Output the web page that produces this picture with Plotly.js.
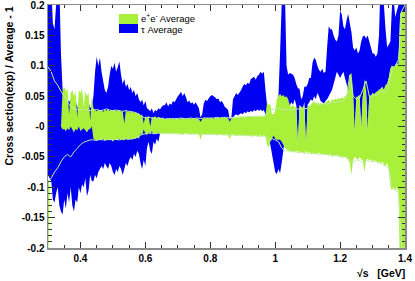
<!DOCTYPE html>
<html><head><meta charset="utf-8">
<script src="https://cdn.plot.ly/plotly-3.0.1.min.js"></script>
<style>html,body{margin:0;padding:0;background:#fff;}#chart{width:415px;height:281px;}</style>
</head><body><div id="chart"></div>
<script>
// ---- data ----
const seriesNames = ['e<sup>+</sup>e<sup>-</sup> Average', '\u03c4 Average'];
const xStart = 0.3;          // first sample (GeV)
const bandStep = 0.005;      // sampling of the bands (GeV)
const lineStep = 0.01;       // sampling of the reference lines (GeV)

// tau average band (upper / lower edge)
const tauHigh = [0.25,0.25,0.23,0.17,0.16,0.2,0.25,0.23,0.12,0.06,
 0.062,0.055,0.045,0.04,0.045,0.035,0.04,0.045,0.03,0.04,
 0.035,0.04,0.03,0.045,0.035,0.04,0.03,0.035,0.05,0.09,
 0.115,0.1,0.113,0.09,0.075,0.06,0.055,0.065,0.085,0.1,
 0.095,0.105,0.09,0.098,0.107,0.085,0.07,0.078,0.065,0.07,
 0.06,0.065,0.055,0.06,0.05,0.055,0.045,0.04,0.044,0.035,
 0.042,0.03,0.028,0.025,0.03,0.022,0.027,0.025,0.03,0.028,
 0.032,0.035,0.035,0.04,0.033,0.038,0.036,0.042,0.04,0.045,
 0.05,0.053,0.057,0.05,0.055,0.048,0.04,0.043,0.038,0.04,
 0.036,0.04,0.035,0.03,0.015,0.02,0.038,0.044,0.042,0.046,
 0.05,0.052,0.05,0.048,0.045,0.046,0.04,0.042,0.038,0.032,
 0.03,0.027,0.012,0.015,0.045,0.05,0.055,0.052,0.056,0.06,
 0.066,0.07,0.068,0.072,0.07,0.078,0.08,0.082,0.077,0.083,
 0.085,0.09,0.087,0.09,0.06,0.035,0.02,0.015,0.0,-0.01,
 -0.01,0.02,0.05,0.12,0.2,0.25,0.22,0.1,0.085,0.088,
 0.087,0.085,0.08,0.07,0.063,0.062,0.045,0.05,0.066,0.065,
 0.07,0.08,0.08,0.105,0.113,0.11,0.1,0.093,0.09,0.095,
 0.088,0.09,0.13,0.165,0.16,0.16,0.15,0.143,0.14,0.15,
 0.19,0.185,0.165,0.16,0.175,0.185,0.17,0.155,0.13,0.125,
 0.13,0.12,0.125,0.14,0.148,0.15,0.145,0.15,0.14,0.13,
 0.12,0.12,0.115,0.12,0.15,0.25,0.21,0.2,0.16,0.13,
 0.135,0.14,0.2,0.21,0.18,0.19,0.2,0.21,0.22,0.21,
 0.25];
const tauLow = [-0.08,-0.085,-0.09,-0.12,-0.125,-0.11,-0.1,-0.13,-0.14,-0.145,
 -0.12,-0.135,-0.11,-0.125,-0.1,-0.13,-0.14,-0.12,-0.125,-0.1,
 -0.11,-0.095,-0.1,-0.085,-0.115,-0.105,-0.08,-0.09,-0.09,-0.08,
 -0.085,-0.075,-0.07,-0.065,-0.07,-0.06,-0.065,-0.07,-0.06,-0.065,
 -0.075,-0.08,-0.07,-0.075,-0.065,-0.07,-0.08,-0.07,-0.06,-0.065,
 -0.055,-0.05,-0.055,-0.045,-0.05,-0.04,-0.045,-0.06,-0.07,-0.055,
 -0.065,-0.035,-0.025,-0.04,-0.045,-0.025,-0.03,-0.02,-0.025,-0.012,
 -0.005,0.0,0.01,0.006,0.012,0.008,0.01,0.007,0.011,0.009,
 0.01,0.008,0.012,0.01,0.009,0.011,0.008,0.01,0.012,0.009,
 0.01,0.008,0.011,0.005,-0.015,-0.005,0.01,0.012,0.01,0.013,
 0.011,0.012,0.01,0.013,0.011,0.012,0.01,0.013,0.012,0.011,
 0.012,0.01,-0.01,0.0,0.015,0.018,0.02,0.018,0.02,0.022,
 0.02,0.024,0.022,0.025,0.023,0.026,0.024,0.027,0.025,0.028,
 0.026,0.028,0.025,0.027,0.02,0.0,-0.02,-0.03,-0.045,-0.06,
 -0.075,-0.078,-0.07,-0.077,-0.06,-0.04,-0.02,0.0,0.02,0.035,
 0.04,0.036,0.045,0.035,-0.03,0.036,0.032,0.03,0.04,-0.035,
 0.036,0.04,0.045,0.042,0.05,0.045,0.055,0.05,0.042,0.04,
 0.038,0.042,0.045,0.05,0.055,0.06,0.07,0.08,0.09,0.085,
 0.08,0.085,0.09,0.08,0.07,0.06,0.055,0.05,0.05,-0.01,
 0.045,0.05,0.052,-0.005,0.05,0.06,0.058,-0.01,0.052,0.05,
 0.055,0.053,0.056,0.058,0.06,0.062,0.065,0.06,0.068,0.07,
 0.08,0.095,0.1,0.098,0.1,0.105,0.1,0.185,0.19,0.188,
 0.19];

// e+e- average band (upper / lower edge)
const eeHigh = [-0.085,-0.1,0.0,0.0,0.0,0.0,0.0,0.0,0.0,0.06,
 0.065,0.058,0.062,0.02,0.055,0.06,0.05,0.057,0.015,0.06,
 0.055,0.062,0.03,0.058,0.05,0.055,0.01,0.05,0.03,0.027,
 0.025,0.028,0.026,0.027,0.024,0.028,0.026,0.029,0.025,0.027,
 0.026,0.028,0.025,0.026,0.027,0.024,0.026,0.005,0.027,0.024,
 0.025,0.023,0.025,0.022,0.024,0.021,0.022,0.018,0.02,0.005,
 0.017,0.015,0.018,0.0,0.016,0.015,0.017,0.014,0.016,0.015,
 0.014,0.015,0.012,0.013,0.012,0.013,0.012,0.013,0.012,0.013,
 0.013,0.012,0.013,0.014,0.013,0.012,0.013,0.014,0.013,0.013,
 0.014,0.013,0.013,0.012,0.008,0.012,0.014,0.013,0.014,0.013,
 0.014,0.014,0.013,0.014,0.015,0.014,0.014,0.015,0.014,0.015,
 0.014,0.013,0.008,0.013,0.015,0.016,0.015,0.016,0.015,0.016,
 0.016,0.015,0.016,0.017,0.016,0.017,0.016,0.017,0.016,0.017,
 0.017,0.016,0.017,0.016,0.018,0.04,0.035,0.038,0.02,0.02,
 0.025,0.045,0.05,0.054,0.05,0.052,0.048,0.05,0.045,0.035,
 0.032,0.036,0.03,0.034,-0.03,0.033,0.03,0.032,0.034,-0.03,
 0.033,0.035,0.036,0.04,0.042,0.038,0.04,0.037,0.039,0.036,
 0.038,0.04,0.041,0.044,0.04,0.045,0.043,0.046,0.044,0.047,
 0.045,0.048,0.046,0.05,0.052,0.06,0.085,0.088,0.06,-0.01,
 0.05,0.048,0.052,-0.005,0.05,0.078,0.06,-0.01,0.052,0.05,
 0.055,0.053,0.056,0.058,0.06,0.062,0.065,0.06,0.068,0.07,
 0.08,0.095,0.1,0.098,0.1,0.105,0.1,0.185,0.19,0.188,
 0.19];
const eeLow = [-0.25,-0.1,0.0,0.0,0.0,0.0,0.0,0.0,0.0,-0.005,
 -0.004,-0.008,-0.003,-0.006,0.0,-0.005,-0.01,-0.004,-0.006,0.0,
 -0.008,-0.005,-0.003,-0.006,-0.01,-0.005,-0.004,0.0,-0.02,-0.022,
 -0.024,-0.021,-0.023,-0.022,-0.02,-0.024,-0.022,-0.021,-0.023,-0.022,
 -0.025,-0.021,-0.022,-0.023,-0.02,-0.022,-0.021,-0.023,-0.02,-0.022,
 -0.021,-0.02,-0.022,-0.019,-0.02,-0.018,-0.02,-0.012,-0.015,-0.005,
 -0.012,-0.014,-0.01,-0.012,-0.008,-0.013,-0.011,-0.012,-0.01,-0.012,
 -0.011,-0.012,-0.011,-0.012,-0.011,-0.012,-0.011,-0.012,-0.011,-0.012,
 -0.011,-0.012,-0.012,-0.013,-0.012,-0.011,-0.012,-0.013,-0.012,-0.012,
 -0.013,-0.012,-0.012,-0.013,-0.022,-0.013,-0.012,-0.013,-0.012,-0.013,
 -0.012,-0.013,-0.013,-0.012,-0.014,-0.013,-0.013,-0.014,-0.013,-0.014,
 -0.013,-0.014,-0.02,-0.014,-0.013,-0.014,-0.015,-0.014,-0.015,-0.014,
 -0.015,-0.014,-0.015,-0.016,-0.015,-0.016,-0.015,-0.016,-0.015,-0.016,
 -0.016,-0.015,-0.016,-0.015,-0.016,-0.03,-0.035,-0.025,-0.02,-0.015,
 -0.02,-0.022,-0.022,-0.022,-0.025,-0.03,-0.035,-0.038,-0.04,-0.04,
 -0.042,-0.04,-0.043,-0.041,-0.04,-0.044,-0.042,-0.043,-0.045,-0.04,
 -0.044,-0.042,-0.045,-0.043,-0.046,-0.044,-0.045,-0.043,-0.046,-0.045,
 -0.047,-0.045,-0.046,-0.048,-0.045,-0.05,-0.047,-0.049,-0.046,-0.05,
 -0.048,-0.052,-0.05,-0.05,-0.052,-0.055,-0.06,-0.08,-0.055,-0.05,
 -0.052,-0.055,-0.05,-0.053,-0.056,-0.075,-0.055,-0.053,-0.056,-0.054,
 -0.058,-0.055,-0.057,-0.06,-0.058,-0.06,-0.058,-0.062,-0.065,-0.06,
 -0.07,-0.1,-0.105,-0.1,-0.105,-0.1,-0.11,-0.25,-0.25,-0.25,
 -0.25];

// light reference lines
const refLineHigh = [0.098,0.09,0.075,0.068,0.058,0.05,0.04,0.033,0.03,0.028,
 0.027,0.028,0.027,0.026,0.027,0.028,0.026,0.027,0.029,0.027,
 0.026,0.027,0.026,0.025,0.026,0.025,0.024,0.023,0.02,0.016,
 0.014,0.015,0.014,0.013,0.013,0.013,0.012,0.013,0.013,0.013,
 0.013,0.014,0.013,0.013,0.014,0.013,0.014,0.013,0.014,0.014,
 0.014,0.014,0.015,0.014,0.015,0.015,0.014,0.015,0.015,0.016,
 0.016,0.016,0.017,0.016,0.017,0.017,0.017,0.018,0.025,0.028,
 0.028,0.03,0.028,0.027,0.028,0.027,0.028,0.029,0.028,0.029,
 0.03,0.035,0.04,0.037,0.036,0.038,0.037,0.039,0.04,0.04,
 0.041,0.042,0.05,0.085,0.05,0.045,0.047,0.06,0.075,0.05,
 0.05,0.052,0.055,0.058,0.057,0.065,0.095,0.1,0.11,0.19,
 0.2];
const refLineLow = [-0.09,-0.085,-0.075,-0.068,-0.058,-0.05,-0.046,-0.05,-0.042,-0.036,
 -0.03,-0.026,-0.024,-0.022,-0.022,-0.023,-0.021,-0.022,-0.022,-0.021,
 -0.022,-0.021,-0.022,-0.021,-0.02,-0.021,-0.02,-0.019,-0.016,-0.013,
 -0.012,-0.011,-0.011,-0.012,-0.011,-0.012,-0.011,-0.012,-0.012,-0.012,
 -0.012,-0.013,-0.012,-0.012,-0.013,-0.012,-0.013,-0.013,-0.013,-0.013,
 -0.013,-0.013,-0.014,-0.013,-0.014,-0.014,-0.014,-0.014,-0.015,-0.014,
 -0.015,-0.015,-0.015,-0.016,-0.015,-0.016,-0.016,-0.016,-0.025,-0.02,
 -0.022,-0.025,-0.035,-0.04,-0.04,-0.042,-0.041,-0.043,-0.042,-0.044,
 -0.044,-0.045,-0.044,-0.046,-0.045,-0.046,-0.046,-0.047,-0.048,-0.048,
 -0.049,-0.05,-0.05,-0.055,-0.06,-0.055,-0.056,-0.06,-0.056,-0.057,
 -0.058,-0.057,-0.06,-0.062,-0.065,-0.07,-0.1,-0.105,-0.11,-0.2,
 -0.2];

const xTickVals = [0.4, 0.6, 0.8, 1.0, 1.2, 1.4];
const xTickText = ['0.4', '0.6', '0.8', '1', '1.2', '1.4'];
const yTickVals = [-0.2, -0.15, -0.1, -0.05, 0, 0.05, 0.1, 0.15, 0.2];
const yTickText = ['-0.2', '-0.15', '-0.1', '-0.05', '-0', '0.05', '0.1', '0.15', '0.2'];
const xTitle = '\u221as\u00a0\u00a0\u00a0[GeV]';
const yTitle = 'Cross section(exp) / Average - 1';

// ---- styles ----
const GREEN = 'rgb(168,240,58)';
const BLUE = 'rgb(0,0,242)';
const PALE = 'rgb(196,236,166)';
const FONT = 'Liberation Sans, Arial, Helvetica, sans-serif';

// sample positions of a series (start + index * step)
const samplesX = (n, step) => Array.from({length: n}, (_, i) => +(xStart + i * step).toFixed(4));

// closed band polygon: upper edge forward, lower edge backward
function bandTrace(high, low, color, name) {
  const xs = samplesX(high.length, bandStep);
  return {
    type: 'scatter', mode: 'lines', name: name,
    x: xs.concat(xs.slice().reverse()),
    y: high.concat(low.slice().reverse()),
    fill: 'toself', fillcolor: color,
    line: {width: 0, color: color, simplify: false},
    hoverinfo: 'skip', showlegend: false
  };
}
function lineTrace(vals) {
  return {
    type: 'scatter', mode: 'lines', x: samplesX(vals.length, lineStep), y: vals,
    line: {width: 1, color: PALE, simplify: false}, hoverinfo: 'skip', showlegend: false
  };
}

const traces = [
  bandTrace(tauHigh, tauLow, BLUE, seriesNames[1]),
  bandTrace(eeHigh, eeLow, GREEN, seriesNames[0]),
  lineTrace(refLineHigh),
  lineTrace(refLineLow)
];

// plot area: x 48..405 px, y 5..248 px
const L = 48, R = 405, T = 5, B = 248;
const px = v => (v - L) / (R - L);
const py = v => (B - v) / (B - T);

const axisCommon = {
  tickmode: 'array', ticks: 'inside', tickwidth: 1, tickcolor: '#333',
  showline: true, linecolor: '#8c8c8c', linewidth: 1.5, mirror: 'allticks',
  showgrid: false, zeroline: false, fixedrange: true, ticklabeloverflow: 'allow',
  tickfont: {family: FONT, size: 10, weight: 700, color: '#000'}
};

const layout = {
  width: 415, height: 281,
  margin: {l: L, r: 415 - R, t: T, b: 281 - B, pad: 0},
  paper_bgcolor: '#fff', plot_bgcolor: '#fff', showlegend: false,
  xaxis: Object.assign({}, axisCommon, {
    range: [0.3, 1.4], tickvals: xTickVals, ticktext: xTickText, ticklen: 6,
    minor: {tickmode: 'linear', tick0: 0, dtick: 0.05, ticks: 'inside', ticklen: 3, tickcolor: '#333', tickwidth: 1, showgrid: false}
  }),
  yaxis: Object.assign({}, axisCommon, {
    range: [-0.2, 0.2], tickvals: yTickVals, ticktext: yTickText, ticklen: 7,
    minor: {tickmode: 'linear', tick0: 0, dtick: 0.01, ticks: 'inside', ticklen: 3.5, tickcolor: '#333', tickwidth: 1, showgrid: false}
  }),
  shapes: [
    {type: 'rect', xref: 'paper', yref: 'paper', x0: px(119), x1: px(138), y0: py(24), y1: py(14), fillcolor: GREEN, line: {width: 0}, layer: 'above'},
    {type: 'rect', xref: 'paper', yref: 'paper', x0: px(119), x1: px(138), y0: py(33), y1: py(24), fillcolor: BLUE, line: {width: 0}, layer: 'above'}
  ],
  annotations: [
    {xref: 'paper', yref: 'paper', x: px(140), y: py(18), xanchor: 'left', yanchor: 'middle', showarrow: false, borderpad: 0,
     text: seriesNames[0], font: {family: FONT, size: 9.5, color: '#000'}},
    {xref: 'paper', yref: 'paper', x: px(140), y: py(29), xanchor: 'left', yanchor: 'middle', showarrow: false, borderpad: 0,
     text: seriesNames[1], font: {family: FONT, size: 9.5, color: '#000'}},
    {xref: 'paper', yref: 'paper', x: px(407), y: py(272.5), xanchor: 'right', yanchor: 'middle', showarrow: false,
     text: xTitle, font: {family: FONT, size: 10.5, weight: 700, color: '#000'}},
    {xref: 'paper', yref: 'paper', x: px(8.5), y: py(86), xanchor: 'center', yanchor: 'middle', showarrow: false, textangle: -90,
     text: yTitle, font: {family: FONT, size: 10.5, weight: 700, color: '#000'}}
  ]
};

Plotly.newPlot('chart', traces, layout, {staticPlot: true, displayModeBar: false});
</script>
</body></html>
